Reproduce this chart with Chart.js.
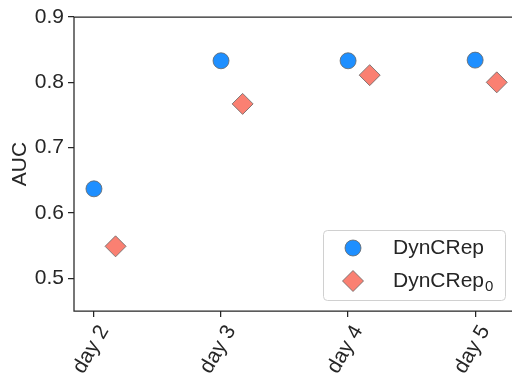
<!DOCTYPE html>
<html>
<head>
<meta charset="utf-8">
<script src="https://cdn.jsdelivr.net/npm/chart.js@4.4.1/dist/chart.umd.min.js"></script>
<style>
  html, body { margin: 0; padding: 0; background: #fff; }
  #wrap { width: 512px; height: 373px; position: relative; }
</style>
</head>
<body>
<div id="wrap"><canvas id="c" width="512" height="373"></canvas></div>
<script>
// AUC per training horizon
const days = ['day 2', 'day 3', 'day 4', 'day 5'];
const dyncrep = [0.637, 0.833, 0.833, 0.834];
const dyncrep0 = [0.549, 0.767, 0.811, 0.800];
const yTicks = [0.5, 0.6, 0.7, 0.8, 0.9];

const FONT = "'Liberation Sans', Arial, sans-serif";
const INK = '#262626';
const DODGE = 0.17; // horizontal shift of the second series

// Legend drawn inside the plot, lower right, with a subscript on the second entry
const innerLegend = {
  id: 'innerLegend',
  afterDraw(chart) {
    const ctx = chart.ctx;
    const bx = 323, by = 230, bw = 182, bh = 70;
    ctx.save();
    ctx.beginPath();
    ctx.roundRect(bx + 0.5, by + 0.5, bw, bh, 4);
    ctx.fillStyle = 'rgba(255,255,255,0.8)';
    ctx.fill();
    ctx.strokeStyle = '#d0d0d0';
    ctx.lineWidth = 1;
    ctx.stroke();

    const rows = [
      { y: by + 18, ds: chart.data.datasets[0], main: 'DynCRep', sub: '' },
      { y: by + 51, ds: chart.data.datasets[1], main: 'DynCRep', sub: '0' }
    ];
    rows.forEach(r => {
      const cx = bx + 30, rr = r.ds.pointRadius;
      ctx.fillStyle = r.ds.backgroundColor;
      ctx.strokeStyle = r.ds.borderColor;
      ctx.lineWidth = r.ds.borderWidth;
      ctx.beginPath();
      if (r.ds.pointStyle === 'circle') {
        ctx.arc(cx, r.y, rr, 0, Math.PI * 2);
      } else {
        ctx.moveTo(cx - rr, r.y);
        ctx.lineTo(cx, r.y - rr);
        ctx.lineTo(cx + rr, r.y);
        ctx.lineTo(cx, r.y + rr);
        ctx.closePath();
      }
      ctx.fill();
      ctx.stroke();

      ctx.fillStyle = INK;
      ctx.textBaseline = 'middle';
      ctx.textAlign = 'left';
      ctx.font = '21px ' + FONT;
      ctx.fillText(r.main, bx + 70, r.y);
      if (r.sub) {
        const w = ctx.measureText(r.main).width;
        ctx.font = '15px ' + FONT;
        ctx.fillText(r.sub, bx + 70 + w + 1, r.y + 6);
      }
    });
    ctx.restore();
  }
};

// Left, top and bottom spines of the plotting area (the right one falls off the canvas)
const frame = {
  id: 'frame',
  beforeDatasetsDraw(chart) {
    const ctx = chart.ctx, a = chart.chartArea;
    ctx.save();
    ctx.strokeStyle = INK;
    ctx.lineWidth = 1.25;
    ctx.beginPath();
    ctx.moveTo(a.right + 2, a.top);
    ctx.lineTo(a.left, a.top);
    ctx.lineTo(a.left, a.bottom);
    ctx.lineTo(a.right + 2, a.bottom);
    ctx.stroke();
    ctx.restore();
  }
};

new Chart(document.getElementById('c'), {
  type: 'scatter',
  data: {
    datasets: [
      {
        label: 'DynCRep',
        data: dyncrep.map((v, i) => ({ x: i, y: v })),
        pointStyle: 'circle',
        pointRadius: 8,
        pointHoverRadius: 8,
        backgroundColor: '#1e8fff',
        borderColor: '#666666',
        borderWidth: 0.8
      },
      {
        label: 'DynCRep₀',
        data: dyncrep0.map((v, i) => ({ x: i + DODGE, y: v })),
        pointStyle: 'rectRot',
        pointRadius: 10.5,
        pointHoverRadius: 10.5,
        backgroundColor: '#fa8072',
        borderColor: '#666666',
        borderWidth: 0.8
      }
    ]
  },
  options: {
    responsive: false,
    animation: false,
    layout: { autoPadding: false, padding: { top: 17, right: 0, left: 0, bottom: 0 } },
    plugins: { legend: { display: false }, tooltip: { enabled: false } },
    scales: {
      x: {
        type: 'linear',
        min: -0.157,
        max: 3.29,
        afterBuildTicks: s => { s.ticks = days.map((d, i) => ({ value: i })); },
        afterFit: s => { s.height = 62; s.paddingLeft = 0; s.paddingRight = 0; },
        border: { display: false },
        grid: { drawOnChartArea: false, drawTicks: true, tickLength: 6, color: INK, lineWidth: 1.25 },
        ticks: {
          callback: v => days[v],
          minRotation: 60,
          maxRotation: 60,
          labelOffset: 10,
          padding: 4,
          color: INK,
          font: { family: FONT, size: 21 }
        }
      },
      y: {
        min: 0.45,
        max: 0.9,
        afterBuildTicks: s => { s.ticks = yTicks.map(v => ({ value: v })); },
        afterFit: s => { s.width = 74; },
        border: { display: false },
        grid: { drawOnChartArea: false, drawTicks: true, tickLength: 6, color: INK, lineWidth: 1.25 },
        title: {
          display: true,
          text: 'AUC',
          color: INK,
          font: { family: FONT, size: 21 },
          padding: { top: 8, bottom: 2 }
        },
        ticks: {
          callback: v => v.toFixed(1),
          padding: 4,
          color: INK,
          font: { family: FONT, size: 21 }
        }
      }
    }
  },
  plugins: [frame, innerLegend]
});
</script>
</body>
</html>
